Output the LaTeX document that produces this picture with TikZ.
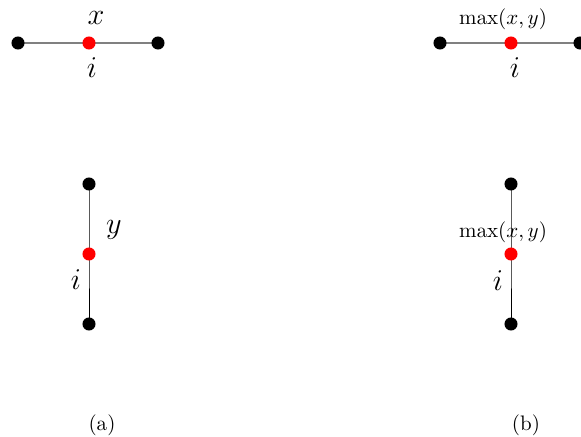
\documentclass[tikz,border=0pt]{standalone}
\begin{document}
\begin{tikzpicture}[x=0.476pt,y=-0.476pt,
  bdot/.style={circle,fill=black,inner sep=0pt,minimum size=6.2pt},
  rdot/.style={circle,fill=red,inner sep=0pt,minimum size=6.2pt},
  lbl/.style={inner sep=0pt,font=\Large},
  hedge/.style={draw=gray,line width=0.6pt},
  vedge/.style={draw=black,line width=0.4pt}]
\useasboundingbox (0,0) rectangle (581,437);
% (a) horizontal
\coordinate (a1) at (18,43);
\coordinate (a2) at (89,43);
\coordinate (a3) at (158,43);
\draw[hedge] (a1) -- (a2) -- (a3);
\node[bdot] (na1) at (a1) {};
\node[rdot] (na2) at (a2) {};
\node[bdot] (na3) at (a3) {};
\node[lbl] (ax) at (96,18) {$x$};
\node[lbl] (ai) at (92,68) {$i$};
% (b) horizontal
\coordinate (b1) at (440,43);
\coordinate (b2) at (511,43);
\coordinate (b3) at (580,43);
\draw[hedge] (b1) -- (b2) -- (b3);
\node[bdot] (nb1) at (b1) {};
\node[rdot] (nb2) at (b2) {};
\node[bdot] (nb3) at (b3) {};
\node[inner sep=0pt] (bm) at (503,19) {$\max(x,y)$};
\node[lbl] (bi) at (515,68) {$i$};
% (a) vertical
\coordinate (c1) at (89,184);
\coordinate (c2) at (89,254);
\coordinate (c3) at (89,324);
\draw[vedge] (c1) -- (c2) -- (c3);
\node[bdot] (nc1) at (c1) {};
\node[rdot] (nc2) at (c2) {};
\node[bdot] (nc3) at (c3) {};
\node[lbl] (cy) at (114,230) {$y$};
\node[lbl] (ci) at (76,280) {$i$};
% (b) vertical
\coordinate (d1) at (511,184);
\coordinate (d2) at (511,254);
\coordinate (d3) at (511,324);
\node[inner sep=0pt] (dm) at (503,232) {$\max(x,y)$};
\draw[vedge] (d1) -- (d2) -- (d3);
\node[bdot] (nd1) at (d1) {};
\node[rdot] (nd2) at (d2) {};
\node[bdot] (nd3) at (d3) {};
\node[lbl] (di) at (498,281) {$i$};
% captions
\node (capa) at (102,425) {(a)};
\node (capb) at (526,425) {(b)};
\end{tikzpicture}
\end{document}
